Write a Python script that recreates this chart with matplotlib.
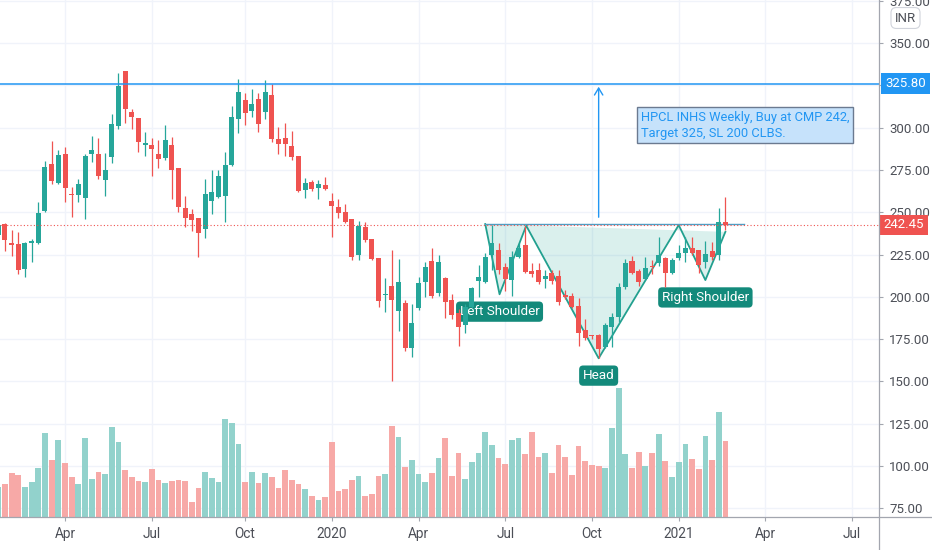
import numpy as np
import pandas as pd
import matplotlib
matplotlib.use('Agg')
import matplotlib.pyplot as plt
import matplotlib.dates as mdates
from matplotlib import transforms
from matplotlib.lines import Line2D

plt.rcParams['font.family'] = ['Roboto', 'DejaVu Sans']

###### Weekly candles (INR), first bar week of 2019-01-21 #####
first_week = '2019-01-21'
opens = [236.5, 242.8, 231.6, 231.0, 216.2, 232.0, 232.0, 250.7, 278.5, 267.1,
         284.4, 260.7, 260.4, 258.2, 284.6, 284.6, 269.0, 282.8, 300.9, 333.2,
         309.0, 305.5, 289.5, 289.7, 284.4, 281.8, 289.7, 275.9, 252.5, 248.7,
         246.6, 239.9, 256.8, 258.8, 259.6, 277.7, 305.1, 316.3, 310.0, 317.1,
         309.4, 319.3, 293.3, 293.7, 289.1, 283.2, 263.1, 267.6, 264.1, 266.1,
         256.6, 253.3, 250.3, 245.8, 224.7, 241.0, 234.2, 222.7, 201.2, 206.4,
         191.8, 196.5, 169.9, 193.2, 209.0, 221.4, 202.4, 210.9, 198.1, 190.2,
         183.3, 194.2, 209.5, 208.9, 224.7, 227.7, 217.8, 209.9, 223.7, 230.6,
         215.2, 215.8, 210.3, 213.9, 212.3, 201.1, 200.5, 194.8, 180.6, 177.3,
         177.4, 170.5, 182.3, 188.3, 206.0, 221.4, 215.4, 210.5, 218.4, 219.8,
         222.7, 213.9, 222.7, 225.7, 228.6, 227.6, 220.8, 227.3, 224.7, 244.4]
highs = [243.8, 243.4, 239.5, 238.1, 232.6, 234.2, 255.8, 280.5, 292.1, 286.8,
         288.7, 264.7, 269.4, 284.4, 295.2, 293.8, 285.2, 308.0, 332.1, 333.5,
         310.8, 305.8, 297.6, 293.7, 292.7, 301.3, 294.4, 276.0, 259.8, 251.9,
         246.8, 269.4, 274.9, 274.9, 285.8, 312.8, 328.5, 320.2, 322.6, 320.6,
         328.1, 325.8, 300.5, 302.9, 298.2, 283.4, 270.4, 269.0, 269.0, 271.0,
         261.3, 257.6, 254.6, 245.8, 244.8, 244.4, 234.2, 222.7, 210.9, 227.7,
         222.5, 198.1, 195.5, 211.9, 220.8, 228.6, 224.7, 211.5, 201.5, 192.8,
         195.7, 206.0, 218.8, 225.7, 242.4, 231.6, 220.2, 227.3, 231.6, 241.8,
         219.8, 219.8, 215.8, 215.8, 215.8, 204.0, 202.0, 199.1, 186.7, 177.7,
         178.2, 184.3, 190.2, 208.0, 222.3, 224.1, 216.4, 223.7, 221.7, 235.1,
         223.3, 222.7, 230.6, 235.5, 235.1, 227.6, 233.2, 232.6, 252.3, 259.2]
lows = [235.5, 227.3, 224.3, 213.5, 211.5, 220.4, 231.0, 250.1, 266.7, 266.5,
        256.2, 247.0, 256.2, 246.2, 279.7, 269.8, 259.6, 278.9, 299.0, 302.9,
        299.0, 285.4, 283.4, 271.6, 275.9, 280.8, 257.6, 250.3, 241.5, 239.1,
        223.7, 234.6, 248.7, 258.2, 244.0, 277.3, 296.6, 301.5, 306.5, 297.6,
        305.1, 291.7, 284.2, 283.2, 280.6, 261.7, 258.2, 262.5, 257.6, 263.1,
        235.1, 246.6, 243.8, 221.7, 221.7, 232.6, 221.7, 194.2, 191.2, 150.4,
        180.0, 168.2, 164.6, 192.2, 200.1, 199.1, 200.5, 187.3, 186.7, 170.9,
        178.4, 193.2, 200.1, 208.0, 215.8, 213.5, 203.4, 200.5, 222.7, 213.9,
        211.5, 207.6, 205.0, 207.6, 195.2, 198.5, 193.2, 170.7, 174.7, 175.0,
        163.6, 169.5, 170.5, 185.3, 204.4, 213.5, 206.6, 210.0, 213.5, 218.2,
        206.0, 213.5, 221.7, 220.8, 224.7, 213.9, 216.8, 221.7, 221.7, 239.5]
closes = [242.5, 233.6, 230.6, 215.8, 231.6, 233.0, 249.7, 276.9, 268.6, 283.8,
          264.1, 260.4, 266.7, 283.2, 286.6, 271.6, 274.9, 302.1, 324.6, 311.0,
          306.5, 291.7, 290.7, 287.5, 281.2, 292.7, 274.9, 253.3, 246.8, 245.2,
          237.9, 260.7, 262.1, 271.6, 277.7, 306.1, 321.2, 308.4, 313.7, 302.1,
          321.2, 293.3, 290.3, 290.3, 282.8, 262.7, 267.4, 263.5, 266.7, 263.7,
          253.4, 249.5, 244.4, 223.7, 241.8, 233.6, 222.3, 197.7, 201.5, 198.1,
          209.0, 169.5, 184.7, 208.3, 217.8, 200.5, 220.8, 197.1, 189.2, 182.3,
          194.2, 205.0, 211.5, 223.7, 231.6, 215.8, 210.3, 223.7, 228.6, 214.8,
          213.5, 208.9, 212.5, 209.5, 197.1, 199.7, 193.8, 178.6, 175.5, 176.6,
          169.0, 183.3, 188.3, 205.6, 220.2, 213.9, 208.9, 217.2, 217.8, 224.7,
          213.9, 221.7, 226.1, 228.6, 225.7, 218.8, 225.3, 223.7, 244.4, 242.45]
volume = [30.0, 33.0, 44.0, 41.7, 30.3, 35.0, 48.7, 84.3, 57.0, 77.3,
          54.3, 39.7, 33.0, 78.7, 38.3, 45.3, 43.0, 90.0, 75.3, 46.7,
          39.7, 36.3, 35.0, 48.0, 37.3, 34.0, 36.3, 37.3, 36.3, 15.3,
          29.3, 45.3, 38.7, 35.0, 98.0, 93.7, 73.0, 35.3, 45.3, 34.0,
          44.3, 39.7, 29.3, 46.7, 37.3, 33.0, 28.3, 21.3, 16.7, 20.0,
          75.3, 26.0, 28.3, 37.3, 40.7, 21.3, 23.3, 40.7, 43.0, 91.3,
          79.7, 50.0, 57.0, 43.0, 35.0, 44.3, 59.3, 78.7, 40.7, 63.7,
          38.3, 54.7, 63.7, 85.3, 71.7, 59.0, 53.3, 77.3, 78.7, 62.7,
          85.3, 60.3, 63.7, 44.3, 71.7, 60.3, 42.0, 70.7, 55.7, 52.3,
          51.0, 48.7, 89.0, 129.3, 62.7, 48.7, 65.0, 51.0, 63.7, 83.3,
          55.7, 39.7, 54.7, 73.0, 58.0, 47.7, 81.0, 57.0, 105.0, 76.3]

target_price = 325.80
last_price = 242.45

# inverse head & shoulders drawing
hs_dates = ['2020-06-15', '2020-06-30', '2020-07-28', '2020-10-12',
            '2021-01-04', '2021-02-01', '2021-02-22']
hs_prices = [243.0, 201.5, 242.0, 163.7, 242.4, 209.9, 238.4]
hs_labels = {1: 'Left Shoulder', 3: 'Head', 5: 'Right Shoulder'}
neck_end = '2021-03-14'
neck_price = 243.0

arrow_date = '2020-10-12'
arrow_from = 245.4

note_text = 'HPCL INHS Weekly, Buy at CMP 242,\nTarget 325, SL 200 CLBS.'
note_date = '2020-11-25'
note_price = 301.5

month_ticks = ['2019-04-01', '2019-07-01', '2019-10-07', '2020-01-06', '2020-04-06',
               '2020-07-06', '2020-10-05', '2021-01-04', '2021-04-05', '2021-07-05']
month_labels = ['Apr', 'Jul', 'Oct', '2020', 'Apr', 'Jul', 'Oct', '2021', 'Apr', 'Jul']
price_ticks = list(range(75, 376, 25))

UP = '#26a69a'
DOWN = '#ef5350'
UP_VOL = '#92d2cc'
DOWN_VOL = '#f7a9a7'
BLUE = '#2196f3'
TEXT = '#4c4f57'
AXLINE = '#a3a6af'
LABEL_BG = '#138a7b'

W, H = 932, 550
PANE_W, PANE_H = 879, 517

fig = plt.figure(figsize=(W / 100, H / 100), dpi=100)
fig.patch.set_facecolor('white')
ax = fig.add_axes([0, 1 - PANE_H / H, PANE_W / W, PANE_H / H])

weeks = pd.date_range(first_week, periods=len(closes), freq='7D')
x = mdates.date2num(weeks)
o = np.array(opens); c = np.array(closes)
hi = np.array(highs); lo = np.array(lows)
up = c >= o
cols = np.where(up, UP, DOWN)

# volume overlay at the bottom quarter of the pane
vol = np.array(volume)
vol_top = vol.max() * 4.0
blend = transforms.blended_transform_factory(ax.transData, ax.transAxes)
ax.bar(x, vol / vol_top, width=6.0, bottom=0, color=np.where(up, UP_VOL, DOWN_VOL),
       linewidth=0, transform=blend, zorder=1)

# head & shoulders
hx = mdates.date2num(pd.to_datetime(hs_dates))
ax.fill(hx, hs_prices, color=UP, alpha=0.17, lw=0, zorder=1.2)
ax.plot(hx, hs_prices, color='#22a08f', lw=1.3, zorder=1.3)
ax.plot([hx[0], mdates.date2num(pd.Timestamp(neck_end))], [neck_price, neck_price],
        color='#4f9ec4', lw=1.0, zorder=1.3)
for k, name in hs_labels.items():
    ax.annotate(name, xy=(hx[k], hs_prices[k]), xytext=(0, -12.5), textcoords='offset points',
                ha='center', va='center', color='white', fontsize=9.7, zorder=1.4,
                bbox=dict(boxstyle='round,pad=0.27,rounding_size=0.3', fc=LABEL_BG, ec='none'))

# candles
ax.vlines(x, lo, hi, colors=cols, lw=0.9, zorder=2.9)
ax.bar(x, np.maximum(np.abs(c - o), 0.6), bottom=np.minimum(o, c), width=5.25,
       color=cols, linewidth=0, zorder=3)

# target line, last price line, arrow, note
ax.axhline(target_price, color=BLUE, lw=1.1, zorder=3.5)
ax.axhline(last_price, color=DOWN, lw=0.8, ls=(0, (1, 2)), zorder=3.5)
ax_x = mdates.date2num(pd.Timestamp(arrow_date))
ax.annotate('', xy=(ax_x, target_price), xytext=(ax_x, arrow_from),
            arrowprops=dict(arrowstyle='->,head_length=0.5,head_width=0.3', color=BLUE, lw=1.0),
            zorder=3.5)
ax.text(mdates.date2num(pd.Timestamp(note_date)), note_price, note_text, ha='left', va='center',
        color=BLUE, fontsize=9.3, linespacing=1.3, zorder=4,
        bbox=dict(boxstyle='square,pad=0.3', fc='#c6e2fb', ec='#6b7a90', lw=1.0))

# axes
x0 = x[0]
ax.set_xlim(x0 + 1.78, x0 + 924.2)
ax.set_ylim(69.9, 375.4)
ax.set_axisbelow(True)
ax.grid(True, color='#f0f3fa', lw=1.0)
for s in ax.spines.values():
    s.set_visible(False)
ax.set_xticks(mdates.date2num(pd.to_datetime(month_ticks)))
ax.set_xticklabels(month_labels)
ax.yaxis.tick_right()
ax.set_yticks(price_ticks)
# the 325 label sits under the target price tag
ax.set_yticklabels(['' if p == 325 else '%.2f' % p for p in price_ticks])
ax.tick_params(axis='x', length=3, width=0.8, color=AXLINE, pad=4, labelsize=9.8, labelcolor=TEXT)
ax.tick_params(axis='y', length=3, width=0.8, color=AXLINE, pad=4.3, labelsize=9.5, labelcolor=TEXT)

fig.add_artist(Line2D([PANE_W / W, PANE_W / W], [0, 1], color=AXLINE, lw=0.9))
fig.add_artist(Line2D([0, 1], [1 - PANE_H / H, 1 - PANE_H / H], color=AXLINE, lw=0.9))

# price scale labels
right = transforms.blended_transform_factory(fig.transFigure, ax.transData)
ax.text(905.5 / W, target_price, '%.2f' % target_price, transform=right, ha='center', va='center',
        color='white', fontsize=9.5, clip_on=False, zorder=5,
        bbox=dict(boxstyle='square,pad=0.3', fc=BLUE, ec='none'))
ax.text(904 / W, last_price, '%.2f' % last_price, transform=right, ha='center', va='center',
        color='white', fontsize=9.5, clip_on=False, zorder=5,
        bbox=dict(boxstyle='square,pad=0.3', fc=DOWN, ec='none'))
fig.text(905.5 / W, 1 - 18 / H, 'INR', ha='center', va='center', color=TEXT, fontsize=9.5,
         bbox=dict(boxstyle='round,pad=0.3,rounding_size=0.4', fc='white', ec='#d1d4dc', lw=0.8))

fig.savefig('out.png', dpi=100)
